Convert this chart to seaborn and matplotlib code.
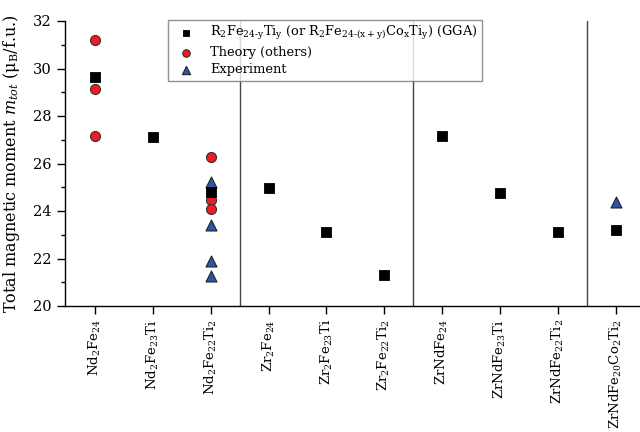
import matplotlib
matplotlib.use("Agg")
import matplotlib.pyplot as plt
import seaborn as sns
import pandas as pd

# Compounds along the x axis
categories = [
    r"Nd$_2$Fe$_{24}$", r"Nd$_2$Fe$_{23}$Ti", r"Nd$_2$Fe$_{22}$Ti$_2$",
    r"Zr$_2$Fe$_{24}$", r"Zr$_2$Fe$_{23}$Ti", r"Zr$_2$Fe$_{22}$Ti$_2$",
    r"ZrNdFe$_{24}$", r"ZrNdFe$_{23}$Ti", r"ZrNdFe$_{22}$Ti$_2$",
    r"ZrNdFe$_{20}$Co$_2$Ti$_2$",
]

# GGA results (one per compound)
gga_idx = [0, 1, 2, 3, 4, 5, 6, 7, 8, 9]
gga_val = [29.65, 27.12, 24.81, 24.97, 23.12, 21.30, 27.14, 24.75, 23.10, 23.21]

# Other theoretical results
theory_idx = [0, 0, 0, 2, 2, 2]
theory_val = [31.18, 29.13, 27.17, 26.28, 24.48, 24.07]

# Experimental values
exp_idx = [2, 2, 2, 2, 9]
exp_val = [25.22, 23.43, 21.88, 21.26, 24.40]

sns.set_theme(style="ticks")
plt.rcParams["font.family"] = ["DejaVu Serif"]
plt.rcParams["mathtext.fontset"] = "dejavuserif"
plt.rcParams["text.color"] = "black"
plt.rcParams["axes.labelcolor"] = "black"
plt.rcParams["xtick.color"] = "black"
plt.rcParams["ytick.color"] = "black"

fig = plt.figure(figsize=(6.4, 4.32), dpi=100)
ax = fig.add_axes([65 / 640, 1 - 306 / 432, 575 / 640, 285 / 432])

gga = pd.DataFrame({"x": gga_idx, "y": gga_val})
theory = pd.DataFrame({"x": theory_idx, "y": theory_val})
exp = pd.DataFrame({"x": exp_idx, "y": exp_val})

sns.scatterplot(data=gga, x="x", y="y", marker="s", s=42, color="black",
                edgecolor="black", linewidth=0.6, ax=ax, zorder=4,
                label=r"R$_2$Fe$_{\mathrm{24\text{-}y}}$Ti$_\mathrm{y}$ (or R$_2$Fe$_{\mathrm{24\text{-}(x+y)}}$Co$_\mathrm{x}$Ti$_\mathrm{y}$) (GGA)")
sns.scatterplot(data=theory, x="x", y="y", marker="o", s=52, color="#ee1c24",
                edgecolor="#333333", linewidth=0.8, ax=ax, zorder=3,
                label="Theory (others)")
sns.scatterplot(data=exp, x="x", y="y", marker="^", s=62, color="#2f56a6",
                edgecolor="#222222", linewidth=0.8, ax=ax, zorder=3,
                label="Experiment")

# Group separators
for xs in (2.5, 5.5, 8.5):
    ax.axvline(xs, color="#444444", linewidth=1.0, zorder=1)

ax.set_xlim(-0.52, 9.42)
ax.set_ylim(20, 32)
ax.set_xticks(range(len(categories)))
ax.set_xticklabels(categories, rotation=90, fontsize=9.5)
ax.set_yticks(range(20, 33, 2))
ax.set_yticks(range(21, 32, 2), minor=True)
ax.tick_params(axis="y", which="major", length=6, width=1, labelsize=10.5, direction="out")
ax.tick_params(axis="y", which="minor", length=3, width=1, direction="out")
ax.tick_params(axis="x", which="major", length=6, width=1, direction="out")
ax.set_xlabel("")
ax.set_ylabel(r"Total magnetic moment $m_{tot}$ ($\mathrm{\mu_B}$/f.u.)", fontsize=11.5,
              labelpad=8)

for side in ("top", "right"):
    ax.spines[side].set_visible(False)
for side in ("left", "bottom"):
    ax.spines[side].set_color("black")
    ax.spines[side].set_linewidth(1.0)

leg = ax.legend(loc="upper left", bbox_to_anchor=(0.179, 1.004), borderaxespad=0,
                fontsize=9.4, frameon=True, fancybox=False, handletextpad=0.8,
                labelspacing=0.3, borderpad=0.35, handlelength=2.1, markerscale=0.75)
leg.get_frame().set_edgecolor("#777777")
leg.get_frame().set_linewidth(1.0)

fig.savefig("out.png", dpi=100)
